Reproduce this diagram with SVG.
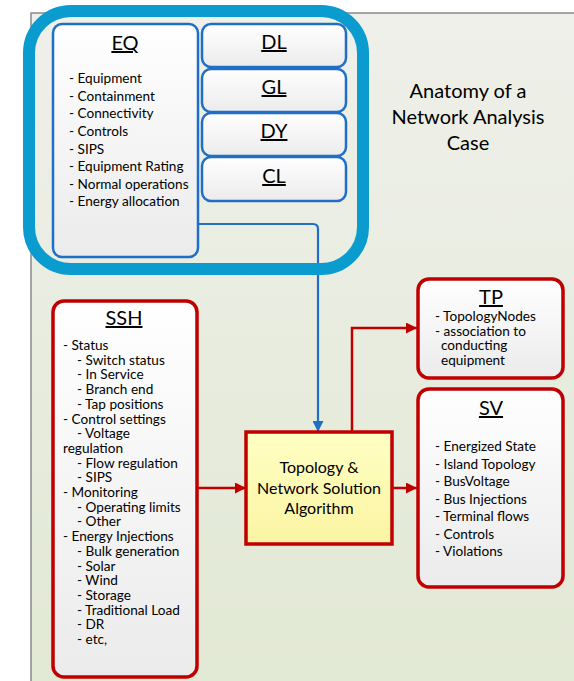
<svg xmlns="http://www.w3.org/2000/svg" width="574" height="681" viewBox="0 0 574 681">
  <defs>
    <linearGradient id="bg" x1="0" y1="0" x2="0" y2="1">
      <stop offset="0" stop-color="#eff0ea"/>
      <stop offset="1" stop-color="#e1e8d3"/>
    </linearGradient>
    <linearGradient id="card" x1="0" y1="0" x2="0" y2="1">
      <stop offset="0" stop-color="#ffffff"/>
      <stop offset="1" stop-color="#ebebeb"/>
    </linearGradient>
    <linearGradient id="algo" x1="0" y1="0" x2="0" y2="1">
      <stop offset="0" stop-color="#ffffc4"/>
      <stop offset="1" stop-color="#fbf4a2"/>
    </linearGradient>
    <marker id="arrRed" viewBox="0 0 10 10" refX="10" refY="5" markerWidth="11" markerHeight="11" markerUnits="userSpaceOnUse" orient="auto">
      <path d="M0,0 L10,5 L0,10 Z" fill="#c00000"/>
    </marker>
    <marker id="arrBlue" viewBox="0 0 10 10" refX="10" refY="5" markerWidth="11" markerHeight="11" markerUnits="userSpaceOnUse" orient="auto">
      <path d="M0,0 L10,5 L0,10 Z" fill="#1f6fc6"/>
    </marker>
  </defs>
  <style>
    text { font-family: Lato, "Liberation Sans", sans-serif; fill: #000; }
    .title { font-size: 20px; text-anchor: middle; text-decoration: underline; }
    .item { font-size: 13.6px; }
    .head { font-size: 20px; text-anchor: middle; }
    .algo { font-size: 16px; text-anchor: middle; }
    .blueCard { fill: url(#card); stroke: #1f6fc6; stroke-width: 2.5; }
    .redCard { fill: url(#card); stroke: #c00000; stroke-width: 3.5; }
    .redLine { fill: none; stroke: #c00000; stroke-width: 2.5; }
    .blueLine { fill: none; stroke: #1f6fc6; stroke-width: 2.2; }
  </style>

  <!-- background panel -->
  <rect x="31" y="13" width="560" height="690" fill="url(#bg)" stroke="#8a8a8a" stroke-width="1.5"/>

  <!-- heading -->
  <g id="heading">
    <text class="head" x="468" y="98">Anatomy of a</text>
    <text class="head" x="468" y="124">Network Analysis</text>
    <text class="head" x="468" y="150">Case</text>
  </g>

  <g id="connectors">
    <path class="blueLine" d="M198,224 H313 Q318,224 318,229 V432" marker-end="url(#arrBlue)"/>
    <path class="redLine" d="M197,488 H246" marker-end="url(#arrRed)"/>
    <path class="redLine" d="M392,488 H417" marker-end="url(#arrRed)"/>
    <path class="redLine" d="M352,432 V328 H417" marker-end="url(#arrRed)"/>
  </g>

  <!-- static model profile group (frame lies over the EQ connector) -->
  <g id="static-group">
    <rect x="29" y="11" width="334" height="258" rx="42" fill="none" stroke="#0a9bcf" stroke-width="12"/>
  </g>

  <g id="eq">
    <rect class="blueCard" x="53" y="24" width="145" height="233" rx="9"/>
    <text class="title" x="125" y="50">EQ</text>
    <text class="item" x="69" y="83">- Equipment</text>
    <text class="item" x="69" y="100.6">- Containment</text>
    <text class="item" x="69" y="118.2">- Connectivity</text>
    <text class="item" x="69" y="135.9">- Controls</text>
    <text class="item" x="69" y="153.5">- SIPS</text>
    <text class="item" x="69" y="171.1">- Equipment Rating</text>
    <text class="item" x="69" y="188.8">- Normal operations</text>
    <text class="item" x="69" y="206.4">- Energy allocation</text>
  </g>

  <g id="dl">
    <rect class="blueCard" x="202" y="24" width="144" height="43" rx="9"/>
    <text class="title" x="274" y="49">DL</text>
  </g>
  <g id="gl">
    <rect class="blueCard" x="202" y="69" width="144" height="43" rx="9"/>
    <text class="title" x="274" y="94">GL</text>
  </g>
  <g id="dy">
    <rect class="blueCard" x="202" y="113" width="144" height="43" rx="9"/>
    <text class="title" x="274" y="138">DY</text>
  </g>
  <g id="cl">
    <rect class="blueCard" x="202" y="157" width="144" height="44" rx="9"/>
    <text class="title" x="274" y="183">CL</text>
  </g>

  <g id="ssh">
    <rect class="redCard" x="53" y="301" width="144" height="376" rx="11"/>
    <text class="title" x="124" y="325">SSH</text>
    <text class="item" x="63" y="350">- Status</text>
    <text class="item" x="77" y="364.7">- Switch status</text>
    <text class="item" x="77" y="379.4">- In Service</text>
    <text class="item" x="77" y="394.1">- Branch end</text>
    <text class="item" x="77" y="408.8">- Tap positions</text>
    <text class="item" x="63" y="423.5">- Control settings</text>
    <text class="item" x="77" y="438.2">- Voltage</text>
    <text class="item" x="63" y="452.9">regulation</text>
    <text class="item" x="77" y="467.6">- Flow regulation</text>
    <text class="item" x="77" y="482.3">- SIPS</text>
    <text class="item" x="63" y="497">- Monitoring</text>
    <text class="item" x="77" y="511.7">- Operating limits</text>
    <text class="item" x="77" y="526.4">- Other</text>
    <text class="item" x="63" y="541.1">- Energy Injections</text>
    <text class="item" x="77" y="555.8">- Bulk generation</text>
    <text class="item" x="77" y="570.5">- Solar</text>
    <text class="item" x="77" y="585.2">- Wind</text>
    <text class="item" x="77" y="599.9">- Storage</text>
    <text class="item" x="77" y="614.6">- Traditional Load</text>
    <text class="item" x="77" y="629.3">- DR</text>
    <text class="item" x="77" y="644">- etc,</text>
  </g>

  <g id="algorithm">
    <rect x="246" y="432" width="146" height="112" fill="url(#algo)" stroke="#c00000" stroke-width="3.5"/>
    <text class="algo" x="319" y="473">Topology &amp;</text>
    <text class="algo" x="319" y="494">Network Solution</text>
    <text class="algo" x="319" y="514">Algorithm</text>
  </g>

  <g id="tp">
    <rect class="redCard" x="418" y="279" width="145" height="99" rx="11"/>
    <text class="title" x="491" y="304">TP</text>
    <text class="item" x="435" y="321">- TopologyNodes</text>
    <text class="item" x="435" y="335.5">- association to</text>
    <text class="item" x="441" y="350">conducting</text>
    <text class="item" x="441" y="364.5">equipment</text>
  </g>

  <g id="sv">
    <rect class="redCard" x="418" y="389" width="145" height="198" rx="11"/>
    <text class="title" x="491" y="415">SV</text>
    <text class="item" x="435" y="451">- Energized State</text>
    <text class="item" x="435" y="468.5">- Island Topology</text>
    <text class="item" x="435" y="486">- BusVoltage</text>
    <text class="item" x="435" y="503.5">- Bus Injections</text>
    <text class="item" x="435" y="521">- Terminal flows</text>
    <text class="item" x="435" y="538.5">- Controls</text>
    <text class="item" x="435" y="556">- Violations</text>
  </g>
</svg>
